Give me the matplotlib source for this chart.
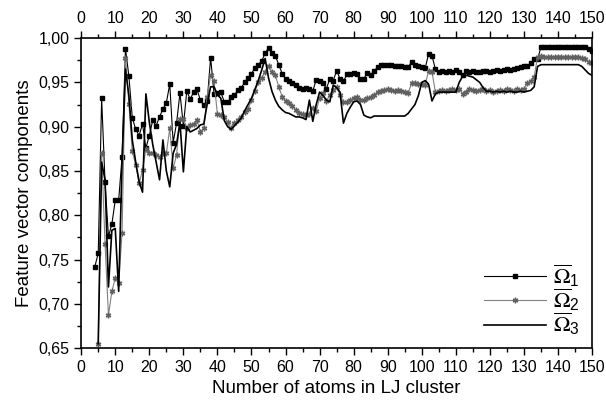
import numpy as np
import matplotlib
matplotlib.use("Agg")
import matplotlib.pyplot as plt
from matplotlib.ticker import MultipleLocator, FuncFormatter

plt.rcParams['font.family'] = ['Liberation Sans', 'DejaVu Sans']
plt.rcParams['mathtext.fontset'] = 'stix'

# cluster sizes
n1 = list(range(4, 151))
n23 = list(range(5, 151))

# omega_1 (squares), N = 4..150
omega1 = [0.742, 0.757, 0.932, 0.837, 0.776, 0.790, 0.817, 0.817, 0.866, 0.988,
          0.957, 0.910, 0.897, 0.890, 0.903, 0.876, 0.890, 0.907, 0.901, 0.911,
          0.920, 0.927, 0.948, 0.882, 0.904, 0.938, 0.901, 0.940, 0.931, 0.939,
          0.942, 0.930, 0.924, 0.929, 0.978, 0.937, 0.938, 0.939, 0.928, 0.928,
          0.933, 0.936, 0.941, 0.944, 0.950, 0.955, 0.960, 0.966, 0.970, 0.974,
          0.983, 0.989, 0.983, 0.980, 0.970, 0.960, 0.954, 0.952, 0.949, 0.947,
          0.944, 0.943, 0.944, 0.943, 0.940, 0.953, 0.952, 0.949, 0.943, 0.954,
          0.952, 0.963, 0.954, 0.951, 0.959, 0.960, 0.961, 0.960, 0.954, 0.954,
          0.961, 0.958, 0.963, 0.967, 0.970, 0.970, 0.970, 0.970, 0.969, 0.968,
          0.968, 0.967, 0.967, 0.973, 0.970, 0.968, 0.967, 0.966, 0.982, 0.980,
          0.965, 0.962, 0.963, 0.962, 0.963, 0.962, 0.964, 0.962, 0.958, 0.963,
          0.962, 0.963, 0.962, 0.962, 0.963, 0.963, 0.962, 0.963, 0.964, 0.963,
          0.964, 0.965, 0.964, 0.965, 0.966, 0.967, 0.968, 0.968, 0.972, 0.976,
          0.976, 0.990, 0.990, 0.990, 0.990, 0.990, 0.990, 0.990, 0.990, 0.990,
          0.990, 0.990, 0.990, 0.990, 0.990, 0.988, 0.985]

# omega_2 (asterisks), N = 5..150
omega2 = [0.655, 0.870, 0.768, 0.687, 0.714, 0.729, 0.723, 0.780, 0.978, 0.926,
          0.872, 0.857, 0.836, 0.851, 0.875, 0.870, 0.870, 0.868, 0.866, 0.870,
          0.870, 0.898, 0.853, 0.868, 0.909, 0.909, 0.898, 0.902, 0.903, 0.908,
          0.894, 0.898, 0.934, 0.958, 0.951, 0.914, 0.913, 0.911, 0.905, 0.898,
          0.904, 0.908, 0.911, 0.916, 0.920, 0.930, 0.940, 0.950, 0.955, 0.962,
          0.968, 0.962, 0.958, 0.945, 0.934, 0.929, 0.927, 0.923, 0.919, 0.915,
          0.914, 0.913, 0.914, 0.921, 0.918, 0.932, 0.938, 0.929, 0.936, 0.941,
          0.945, 0.936, 0.928, 0.928, 0.930, 0.932, 0.934, 0.930, 0.930, 0.932,
          0.934, 0.936, 0.939, 0.940, 0.941, 0.942, 0.941, 0.940, 0.941, 0.940,
          0.939, 0.938, 0.949, 0.949, 0.948, 0.948, 0.947, 0.963, 0.962, 0.939,
          0.940, 0.941, 0.940, 0.941, 0.942, 0.941, 0.943, 0.937, 0.939, 0.942,
          0.941, 0.940, 0.941, 0.942, 0.940, 0.941, 0.939, 0.940, 0.941, 0.940,
          0.942, 0.941, 0.940, 0.942, 0.941, 0.943, 0.949, 0.952, 0.956, 0.979,
          0.980, 0.979, 0.979, 0.979, 0.979, 0.979, 0.979, 0.979, 0.979, 0.979,
          0.979, 0.979, 0.977, 0.976, 0.973, 0.972]

# omega_3 (solid line), N = 5..150
omega3 = [0.655, 0.860, 0.840, 0.719, 0.783, 0.785, 0.714, 0.860, 0.965, 0.935,
          0.885, 0.860, 0.838, 0.826, 0.937, 0.905, 0.880, 0.860, 0.840, 0.885,
          0.850, 0.832, 0.870, 0.880, 0.905, 0.849, 0.900, 0.894, 0.896, 0.898,
          0.902, 0.903, 0.926, 0.945, 0.945, 0.936, 0.932, 0.907, 0.900, 0.897,
          0.901, 0.905, 0.910, 0.918, 0.925, 0.932, 0.942, 0.952, 0.964, 0.977,
          0.955, 0.940, 0.930, 0.923, 0.919, 0.916, 0.915, 0.913, 0.911, 0.911,
          0.910, 0.908, 0.930, 0.906, 0.925, 0.939, 0.935, 0.930, 0.928, 0.947,
          0.944, 0.939, 0.904, 0.915, 0.922, 0.928, 0.929, 0.925, 0.913, 0.911,
          0.910, 0.912, 0.912, 0.912, 0.912, 0.912, 0.912, 0.912, 0.912, 0.912,
          0.912, 0.915, 0.920, 0.925, 0.935, 0.950, 0.952, 0.948, 0.929, 0.937,
          0.939, 0.939, 0.939, 0.939, 0.939, 0.939, 0.950, 0.957, 0.958, 0.957,
          0.956, 0.953, 0.950, 0.944, 0.940, 0.940, 0.939, 0.940, 0.939, 0.940,
          0.939, 0.940, 0.939, 0.939, 0.940, 0.939, 0.940, 0.941, 0.945, 0.968,
          0.970, 0.970, 0.970, 0.970, 0.970, 0.970, 0.970, 0.970, 0.970, 0.970,
          0.970, 0.970, 0.968, 0.964, 0.960, 0.958]

fig = plt.figure(figsize=(6.06, 4.01), dpi=100)
ax = fig.add_axes([0.134, 0.132, 0.843, 0.773])

ax.plot(n1, omega1, color='black', lw=0.8, marker='s', ms=3.4,
        label=r'$\overline{\Omega}_{\mathregular{1}}$')
ax.plot(n23, omega2, color='#808080', lw=0.8, marker=(6, 2, 0), ms=4,
        mec='#606060', label=r'$\overline{\Omega}_{\mathregular{2}}$')
ax.plot(n23, omega3, color='black', lw=1.2,
        label=r'$\overline{\Omega}_{\mathregular{3}}$')

ax.set_xlim(0, 150)
ax.set_ylim(0.65, 1.0)
ax.xaxis.set_major_locator(MultipleLocator(10))
ax.xaxis.set_minor_locator(MultipleLocator(5))
ax.yaxis.set_major_locator(MultipleLocator(0.05))
ax.yaxis.set_minor_locator(MultipleLocator(0.025))
ax.yaxis.set_major_formatter(FuncFormatter(lambda v, p: '{:.2f}'.format(v).replace('.', ',')))

ax.tick_params(which='both', direction='out', top=True, labeltop=True,
               right=False, labelsize=11.5)
ax.tick_params(which='major', length=5, width=1)
ax.tick_params(which='minor', length=3, width=1)
for s in ax.spines.values():
    s.set_linewidth(1.2)

ax.set_xlabel('Number of atoms in LJ cluster', fontsize=13.5)
ax.set_ylabel('Feature vector components', fontsize=13.5)

ax.legend(loc='lower right', bbox_to_anchor=(1.015, -0.03), frameon=False,
          fontsize=16, handlelength=2.8, numpoints=1, labelspacing=-0.1,
          handletextpad=0.3)

plt.savefig('out.png', dpi=100)
